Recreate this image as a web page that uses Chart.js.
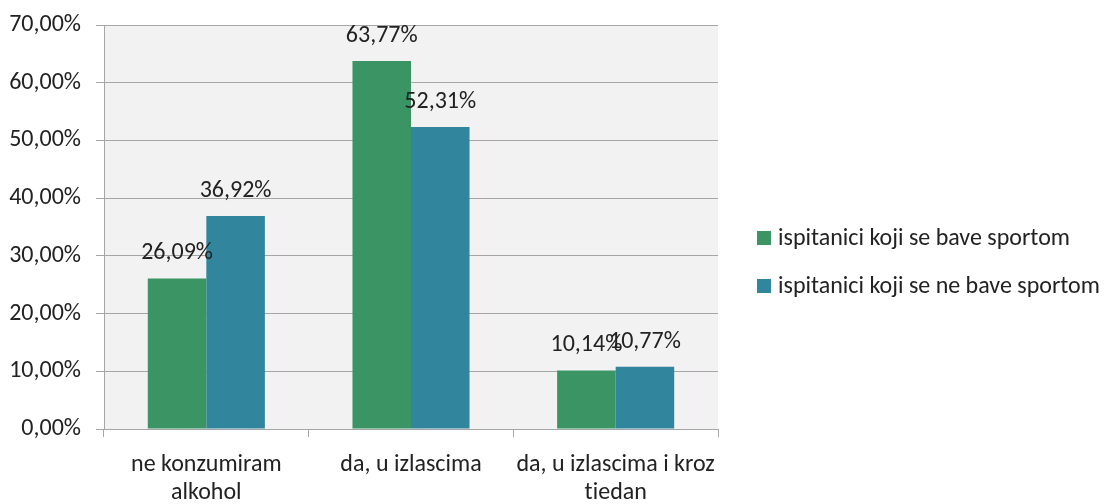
<!DOCTYPE html>
<html>
<head>
<meta charset="utf-8">
<script src="https://cdn.jsdelivr.net/npm/chart.js@4.4.0/dist/chart.umd.min.js"></script>
<style>
  html, body { margin: 0; padding: 0; background: #fff; }
  #wrap { width: 1105px; height: 504px; }
</style>
</head>
<body>
<div id="wrap"><canvas id="alkoholChart"></canvas></div>
<script>
const categories = [["ne konzumiram", "alkohol"], "da, u izlascima", ["da, u izlascima i kroz", "tjedan"]];
const sportValues = [26.09, 63.77, 10.14];
const noSportValues = [36.92, 52.31, 10.77];
const seriesNames = ["ispitanici koji se bave sportom", "ispitanici koji se ne bave sportom"];
const seriesColors = ["#3a9464", "#31859c"];

const FONT = "Carlito";
const textColor = "#222222";
const lineColor = "#a6a6a6";

const fmt = (v) => v.toFixed(2).replace(".", ",") + "%";

// grey plot background
const plotBg = {
  id: "plotBg",
  beforeDraw(chart) {
    const a = chart.chartArea;
    const ctx = chart.ctx;
    ctx.save();
    ctx.fillStyle = "#f2f2f2";
    ctx.fillRect(a.left, a.top, a.right - a.left, a.bottom - a.top);
    ctx.restore();
  }
};

// value labels above the bars
const barLabels = {
  id: "barLabels",
  afterDatasetsDraw(chart) {
    const ctx = chart.ctx;
    ctx.save();
    ctx.font = "24px " + FONT;
    ctx.fillStyle = textColor;
    ctx.textAlign = "center";
    ctx.textBaseline = "alphabetic";
    chart.data.datasets.forEach((ds, i) => {
      chart.getDatasetMeta(i).data.forEach((bar, j) => {
        ctx.fillText(fmt(ds.data[j]), bar.x, bar.y - 19);
      });
    });
    ctx.restore();
  }
};

// legend on the right, drawn by hand because the built-in one gets squeezed
const sideLegend = {
  id: "sideLegend",
  afterDraw(chart) {
    const a = chart.chartArea;
    const ctx = chart.ctx;
    const x = a.right + 39;
    const midY = (a.top + a.bottom) / 2 + 35;
    ctx.save();
    ctx.font = "24px " + FONT;
    ctx.textBaseline = "middle";
    ctx.textAlign = "left";
    chart.data.datasets.forEach((ds, i) => {
      const y = midY + (i - 0.5) * 48;
      ctx.fillStyle = ds.backgroundColor;
      ctx.fillRect(x, y - 7, 14, 14);
      ctx.fillStyle = textColor;
      ctx.fillText(ds.label, x + 21, y + 1);
    });
    ctx.restore();
  }
};

function drawChart() {
  const ctx = document.getElementById("alkoholChart").getContext("2d");
  new Chart(ctx, {
    type: "bar",
    data: {
      labels: categories,
      datasets: [
        { label: seriesNames[0], data: sportValues, backgroundColor: seriesColors[0], borderWidth: 0 },
        { label: seriesNames[1], data: noSportValues, backgroundColor: seriesColors[1], borderWidth: 0 }
      ]
    },
    options: {
      responsive: true,
      maintainAspectRatio: false,
      animation: false,
      layout: { padding: { top: 25, left: 0, right: 387, bottom: 5 } },
      datasets: { bar: { barPercentage: 1, categoryPercentage: 0.572 } },
      plugins: {
        legend: { display: false },
        tooltip: { enabled: false }
      },
      scales: {
        x: {
          grid: { drawOnChartArea: false, color: lineColor, tickLength: 8 },
          border: { color: lineColor },
          ticks: { font: { family: FONT, size: 24, lineHeight: 1.17 }, color: textColor, padding: 14 },
          afterFit: (s) => { s.height = 70; }
        },
        y: {
          min: 0,
          max: 70,
          grid: { color: lineColor, tickLength: 8 },
          border: { color: lineColor },
          ticks: {
            stepSize: 10,
            font: { family: FONT, size: 24 },
            color: textColor,
            padding: 15,
            callback: (v) => fmt(v)
          },
          afterFit: (s) => {
            s.width = 104;
            s.paddingTop = 0;
            s.paddingBottom = 0;
          }
        }
      }
    },
    plugins: [plotBg, barLabels, sideLegend]
  });
}

document.fonts.load("24px " + FONT).then(drawChart, drawChart);
</script>
</body>
</html>
